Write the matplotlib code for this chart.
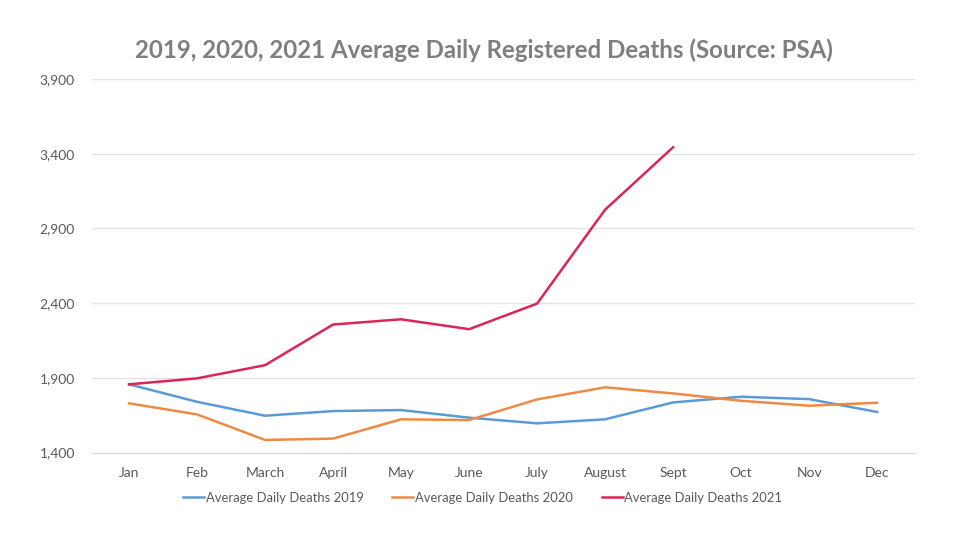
import matplotlib.pyplot as plt
import numpy as np

# Monthly average daily registered deaths
months = ['Jan', 'Feb', 'March', 'April', 'May', 'June', 'July',
          'August', 'Sept', 'Oct', 'Nov', 'Dec']
deaths_2019 = [1857, 1740, 1647, 1678, 1685, 1634, 1596, 1623, 1736, 1774, 1758, 1672]
deaths_2020 = [1730, 1656, 1485, 1494, 1623, 1618, 1756, 1837, 1796, 1747, 1714, 1734]
deaths_2021 = [1857, 1897, 1985, 2257, 2292, 2226, 2397, 3025, 3443]

yticks = [1400, 1900, 2400, 2900, 3400, 3900]

plt.rcParams['font.family'] = ['Lato', 'DejaVu Sans']
text_grey = '#595959'

fig = plt.figure(figsize=(9.75, 5.48), dpi=100)
ax = fig.add_axes([0.094, 0.174, 0.844, 0.682])

x = np.arange(len(months))
ax.plot(x, deaths_2019, color='#5B9BD5', lw=1.8, label='Average Daily Deaths 2019')
ax.plot(x, deaths_2020, color='#EE8A45', lw=1.8, label='Average Daily Deaths 2020')
ax.plot(x[:len(deaths_2021)], deaths_2021, color='#DC2456', lw=1.8,
        label='Average Daily Deaths 2021')

ax.set_xlim(-0.55, len(months) - 0.45)
ax.set_ylim(1400, 3900)
ax.set_yticks(yticks)
ax.set_yticklabels([f'{v:,}' for v in yticks])
ax.set_xticks(x)
ax.set_xticklabels(months)
ax.tick_params(axis='both', length=0, labelsize=10, colors=text_grey)
ax.tick_params(axis='x', pad=10)
ax.tick_params(axis='y', pad=12)

ax.grid(axis='y', color='#e3e3e3', lw=1)
ax.set_axisbelow(True)
for side in ['top', 'right', 'left']:
    ax.spines[side].set_visible(False)
ax.spines['bottom'].set_color('#d9d9d9')

fig.suptitle('2019, 2020, 2021 Average Daily Registered Deaths (Source: PSA)',
             x=0.496, y=0.93, fontsize=17.3, fontweight='bold', color='#7f7f7f')

fig.legend(loc='center', bbox_to_anchor=(0.495, 0.092), ncol=3, frameon=False,
           fontsize=9.4, handlelength=1.6, handletextpad=0.15, columnspacing=2.2,
           labelcolor=text_grey)

fig.savefig('out.png', dpi=100, facecolor='white')
